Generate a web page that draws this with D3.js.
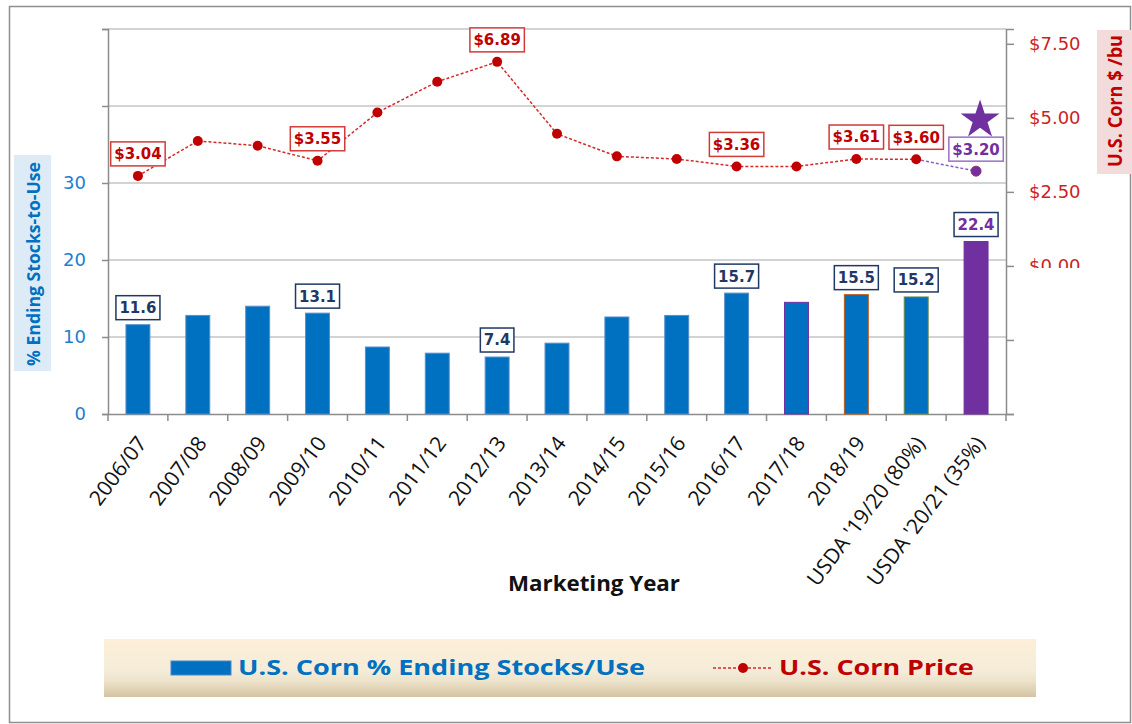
<!DOCTYPE html>
<html>
<head>
<meta charset="utf-8">
<script src="https://cdn.jsdelivr.net/npm/d3@7"></script>
<style>
  body { margin: 0; background: #fff; }
  svg { display: block; }
</style>
</head>
<body>
<div id="container"></div>
<script>
    // data
    const categories = ["2006/07", "2007/08", "2008/09", "2009/10", "2010/11", "2011/12", "2012/13",
        "2013/14", "2014/15", "2015/16", "2016/17", "2017/18", "2018/19",
        "USDA '19/20 (80%)", "USDA '20/21 (35%)"];
    const stocksToUse = [11.6, 12.8, 14.0, 13.1, 8.7, 7.9, 7.4, 9.2, 12.6, 12.8, 15.7, 14.5, 15.5, 15.2, 22.4];
    const cornPrice = [3.04, 4.22, 4.06, 3.55, 5.18, 6.22, 6.89, 4.46, 3.70, 3.61, 3.36, 3.36, 3.61, 3.60, 3.20];
    const labeledYears = [0, 3, 6, 10, 12, 13, 14];
    const stockTicks = [0, 10, 20, 30, 40, 50];
    const stockTickLabels = ["0", "10", "20", "30", "", ""];
    const priceTicks = [-5, -2.5, 0, 2.5, 5, 7.5];
    const priceTickLabels = ["", "", "$0.00", "$2.50", "$5.00", "$7.50"];
    const forecastYear = "USDA '20/21 (35%)";

    // bar outline colours (style only)
    const barEdges = ["#5a8fc8", "#5a8fc8", "#5a8fc8", "#5a8fc8", "#5a8fc8", "#5a8fc8", "#5a8fc8",
        "#5a8fc8", "#5a8fc8", "#5a8fc8", "#5a8fc8", "#7030a0", "#c55a11", "#6a8a4a", "#7030a0"];

    const width = 1132;
    const height = 724;
    const plotLeft = 108;
    const plotRight = 1006;
    const plotTop = 29;
    const plotBottom = 414;

    const blue = "#0070c0";
    const red = "#c00000";
    const purple = "#7030a0";
    const navy = "#1f3864";

    const svg = d3.select("#container").append("svg")
        .attr("width", width)
        .attr("height", height);

    // legend background gradient
    const grad = svg.append("defs").append("linearGradient")
        .attr("id", "legendBg")
        .attr("x1", 0).attr("y1", 0).attr("x2", 0).attr("y2", 1);
    grad.append("stop").attr("offset", "0%").attr("stop-color", "#fdefd8");
    grad.append("stop").attr("offset", "55%").attr("stop-color", "#f4ecd9");
    grad.append("stop").attr("offset", "72%").attr("stop-color", "#ede3cb");
    grad.append("stop").attr("offset", "100%").attr("stop-color", "#d4c3a2");

    // outer frame
    svg.append("rect")
        .attr("x", 9.5)
        .attr("y", 6.5)
        .attr("width", 1121)
        .attr("height", 716)
        .attr("fill", "none")
        .attr("stroke", "#8f8f8f")
        .attr("stroke-width", 1.5);

    // scales
    const x = d3.scaleBand()
        .domain(categories)
        .range([plotLeft, plotRight])
        .paddingInner(0.6)
        .paddingOuter(0.3);
    const xc = d => x(d) + x.bandwidth() / 2;

    const yLeft = d3.scaleLinear().domain([0, 50]).range([plotBottom, plotTop]);
    const yRight = d3.scaleLinear().domain([-5, 8]).range([plotBottom, plotTop]);

    // gridlines
    svg.append("g")
        .selectAll("line")
        .data(stockTicks.filter(d => d > 0))
        .join("line")
        .attr("x1", plotLeft)
        .attr("x2", plotRight)
        .attr("y1", d => yLeft(d))
        .attr("y2", d => yLeft(d))
        .attr("stroke", "#c4c4c4")
        .attr("stroke-width", 1.5);

    // left axis
    const leftAxis = svg.append("g")
        .attr("transform", `translate(${plotLeft},0)`)
        .call(d3.axisLeft(yLeft)
            .tickValues(stockTicks)
            .tickSize(6)
            .tickPadding(16)
            .tickFormat((d, i) => stockTickLabels[i]));
    leftAxis.select(".domain").attr("stroke", "#8c8c8c").attr("stroke-width", 1.5);
    leftAxis.selectAll(".tick line").attr("stroke", "#8c8c8c").attr("stroke-width", 1.5);
    leftAxis.selectAll(".tick text")
        .attr("fill", "#1c7ed0")
        .style("font", "18px 'DejaVu Sans'");

    // right axis
    const rightAxis = svg.append("g")
        .attr("transform", `translate(${plotRight},0)`)
        .call(d3.axisRight(yRight)
            .tickValues(priceTicks)
            .tickSize(8)
            .tickPadding(15)
            .tickFormat((d, i) => priceTickLabels[i]));
    rightAxis.select(".domain").attr("stroke", "#8c8c8c").attr("stroke-width", 1.5);
    rightAxis.selectAll(".tick line").attr("stroke", "#8c8c8c").attr("stroke-width", 1.5);
    rightAxis.selectAll(".tick text")
        .attr("fill", "#cc1f1f")
        .style("font", "18px 'DejaVu Sans'");

    // the $0.00 label is cut off in the original
    svg.append("rect")
        .attr("x", 1016)
        .attr("y", 268)
        .attr("width", 80)
        .attr("height", 24)
        .attr("fill", "#fff");

    // bottom axis with rotated labels
    const bottomAxis = svg.append("g")
        .attr("transform", `translate(0,${plotBottom})`)
        .call(d3.axisBottom(x).tickSize(0));
    bottomAxis.select(".domain").attr("stroke", "#8c8c8c").attr("stroke-width", 1.5);
    bottomAxis.selectAll(".tick text")
        .attr("x", null)
        .attr("y", null)
        .attr("dy", "0.35em")
        .attr("text-anchor", "end")
        .attr("transform", "translate(4,25) rotate(-53)")
        .attr("fill", "#111")
        .style("font", "21px 'Open Sans'");

    // tick marks between categories
    svg.append("g")
        .selectAll("line")
        .data(categories.concat([null]))
        .join("line")
        .attr("x1", d => d === null ? plotRight : xc(d) - x.step() / 2)
        .attr("x2", d => d === null ? plotRight : xc(d) - x.step() / 2)
        .attr("y1", plotBottom)
        .attr("y2", plotBottom + 7)
        .attr("stroke", "#8c8c8c")
        .attr("stroke-width", 1.5);

    // bars
    svg.append("g")
        .selectAll("rect")
        .data(categories)
        .join("rect")
        .attr("x", d => x(d))
        .attr("y", (d, i) => yLeft(stocksToUse[i]))
        .attr("width", x.bandwidth())
        .attr("height", (d, i) => yLeft(0) - yLeft(stocksToUse[i]))
        .attr("fill", d => d === forecastYear ? purple : blue)
        .attr("stroke", (d, i) => barEdges[i])
        .attr("stroke-width", 1);

    // price line
    const line = d3.line()
        .x(i => xc(categories[i]))
        .y(i => yRight(cornPrice[i]));
    const idx = d3.range(categories.length);
    const last = categories.indexOf(forecastYear);

    svg.append("path")
        .attr("d", line(idx.filter(i => i < last)))
        .attr("fill", "none")
        .attr("stroke", "#d42a2a")
        .attr("stroke-width", 1.5)
        .attr("stroke-dasharray", "3,2");

    svg.append("path")
        .attr("d", line([last - 1, last]))
        .attr("fill", "none")
        .attr("stroke", "#8c5cc4")
        .attr("stroke-width", 1.5)
        .attr("stroke-dasharray", "3,2");

    svg.append("g")
        .selectAll("circle")
        .data(idx)
        .join("circle")
        .attr("cx", i => xc(categories[i]))
        .attr("cy", i => yRight(cornPrice[i]))
        .attr("r", 5)
        .attr("fill", i => i === last ? purple : red)
        .attr("stroke", i => i === last ? "#a03070" : "none");

    // forecast star
    svg.append("path")
        .attr("d", d3.symbol(d3.symbolStar, 470)())
        .attr("transform", `translate(${xc(forecastYear) + 4},${yRight(5) + 2})`)
        .attr("fill", purple);

    // boxed data labels
    function boxLabel(cx, bottom, txt, textColor, borderColor) {
        const g = svg.append("g");
        const rect = g.append("rect");
        const t = g.append("text")
            .attr("x", cx)
            .attr("text-anchor", "middle")
            .attr("fill", textColor)
            .style("font", "bold 15px 'DejaVu Sans'")
            .text(txt);
        const h = 24;
        t.attr("y", bottom - h / 2).attr("dy", "0.36em");
        const w = t.node().getComputedTextLength() + 7;
        rect.attr("x", cx - w / 2)
            .attr("y", bottom - h)
            .attr("width", w)
            .attr("height", h)
            .attr("fill", "#fff")
            .attr("stroke", borderColor)
            .attr("stroke-width", 1.5);
    }

    labeledYears.forEach(i => {
        const c = categories[i];
        const fc = i === last;
        boxLabel(xc(c), yRight(cornPrice[i]) - 10, "$" + cornPrice[i].toFixed(2),
            fc ? purple : red, fc ? "#9a70c8" : "#d23a3a");
        boxLabel(xc(c), yLeft(stocksToUse[i]) - 5, stocksToUse[i].toFixed(1),
            fc ? purple : navy, navy);
    });

    // axis titles
    svg.append("rect")
        .attr("x", 14)
        .attr("y", 155)
        .attr("width", 37)
        .attr("height", 216)
        .attr("fill", "#ddebf7");
    svg.append("text")
        .attr("transform", "translate(34,264) rotate(-90)")
        .attr("text-anchor", "middle")
        .attr("dy", "0.35em")
        .attr("fill", blue)
        .attr("textLength", 204)
        .attr("lengthAdjust", "spacingAndGlyphs")
        .style("font", "bold 18px 'Open Sans'")
        .text("% Ending Stocks-to-Use");

    svg.append("rect")
        .attr("x", 1097)
        .attr("y", 30)
        .attr("width", 34)
        .attr("height", 144)
        .attr("fill", "#f2dcdb");
    svg.append("text")
        .attr("transform", "translate(1115,101) rotate(-90)")
        .attr("text-anchor", "middle")
        .attr("dy", "0.35em")
        .attr("fill", red)
        .attr("textLength", 132)
        .attr("lengthAdjust", "spacingAndGlyphs")
        .style("font", "bold 19px 'Open Sans'")
        .text("U.S. Corn $ /bu");

    svg.append("text")
        .attr("x", 594)
        .attr("y", 591)
        .attr("text-anchor", "middle")
        .attr("fill", "#111")
        .attr("textLength", 172)
        .attr("lengthAdjust", "spacingAndGlyphs")
        .style("font", "bold 22px 'Open Sans'")
        .text("Marketing Year");

    // legend
    svg.append("rect")
        .attr("x", 104)
        .attr("y", 639)
        .attr("width", 932)
        .attr("height", 58)
        .attr("fill", "url(#legendBg)");

    svg.append("rect")
        .attr("x", 171)
        .attr("y", 661)
        .attr("width", 60)
        .attr("height", 14)
        .attr("fill", blue)
        .attr("stroke", "#4a86c8");
    svg.append("text")
        .attr("x", 238)
        .attr("y", 675)
        .attr("fill", blue)
        .attr("textLength", 407)
        .attr("lengthAdjust", "spacingAndGlyphs")
        .style("font", "bold 22px 'Open Sans'")
        .text("U.S. Corn % Ending Stocks/Use");

    svg.append("line")
        .attr("x1", 713)
        .attr("x2", 773)
        .attr("y1", 668)
        .attr("y2", 668)
        .attr("stroke", "#d42a2a")
        .attr("stroke-width", 1.5)
        .attr("stroke-dasharray", "3,2");
    svg.append("circle")
        .attr("cx", 743)
        .attr("cy", 668)
        .attr("r", 5)
        .attr("fill", red);
    svg.append("text")
        .attr("x", 779)
        .attr("y", 675)
        .attr("fill", red)
        .attr("textLength", 195)
        .attr("lengthAdjust", "spacingAndGlyphs")
        .style("font", "bold 22px 'Open Sans'")
        .text("U.S. Corn Price");
</script>
</body>
</html>
